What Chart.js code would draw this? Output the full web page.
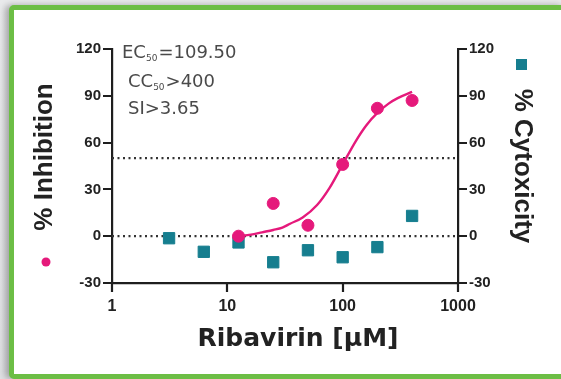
<!DOCTYPE html>
<html>
<head>
<meta charset="utf-8">
<script src="https://cdn.jsdelivr.net/npm/chart.js@4.4.1/dist/chart.umd.min.js"></script>
<style>
  html, body { margin: 0; padding: 0; }
  body { width: 561px; height: 379px; overflow: hidden; position: relative;
         background: linear-gradient(#e9eaec, #dfe0e3); }
  #frame { position: absolute; left: 9px; top: 5px; width: 557px; height: 374px;
           box-sizing: border-box; border: 5px solid #6cbe45; border-radius: 5px;
           background: #fff; box-shadow: -4px 0 6px rgba(0,0,0,0.28); }
  #mycanvas { position: absolute; left: 0; top: 0; }
</style>
</head>
<body>
<div id="frame"></div>
<canvas id="mycanvas" width="561" height="379"></canvas>
<script>
// concentrations (µM) and measured values
var cytoConc = [3.125, 6.25, 12.5, 25, 50, 100, 200, 400];
var cytotoxicity = [-1.3, -10, -4, -16.7, -9, -13.5, -7, 13];
var inhibConc = [12.5, 25, 50, 100, 200, 400];
var inhibition = [0, 21, 7, 46, 82, 87];

// fitted curve
var fitConc = [12.5, 16, 20, 25, 30, 35, 45, 60, 77, 100, 130, 160, 200, 250, 300, 400];
var fitValues = [0, 1, 2.5, 4, 5.5, 8, 12, 20, 31, 46, 61, 71, 79, 85, 88.5, 92.5];

// dotted reference lines (% inhibition)
var refLevels = [50, 0];

var xTicks = [1, 10, 100, 1000];
var yMin = -30, yMax = 120, yStep = 30;

var pink = "#e5197b";
var teal = "#167e8f";
var TICK_LEN = 9;

var refSets = refLevels.map(function(v){
  return {
    type: "line",
    data: [{x: xTicks[0], y: v}, {x: xTicks[xTicks.length - 1], y: v}],
    borderColor: "#333",
    borderWidth: 2.2,
    borderDash: [2, 3.5],
    pointRadius: 0,
    yAxisID: "y",
    order: 10
  };
});

var datasets = [
  {
    type: "scatter",
    label: "% Inhibition",
    data: inhibConc.map(function(c, i){ return {x: c, y: inhibition[i]}; }),
    backgroundColor: pink,
    borderColor: pink,
    pointRadius: 6,
    pointHoverRadius: 6,
    yAxisID: "y",
    order: 1
  },
  {
    type: "line",
    label: "fit",
    data: fitConc.map(function(c, i){ return {x: c, y: fitValues[i]}; }),
    borderColor: pink,
    borderWidth: 2.4,
    cubicInterpolationMode: "monotone",
    pointRadius: 0,
    fill: false,
    yAxisID: "y",
    order: 2
  },
  {
    type: "scatter",
    label: "% Cytoxicity",
    data: cytoConc.map(function(c, i){ return {x: c, y: cytotoxicity[i]}; }),
    backgroundColor: teal,
    borderColor: teal,
    pointStyle: "rect",
    pointRadius: 8,
    pointHoverRadius: 8,
    yAxisID: "y2",
    order: 3
  }
].concat(refSets);

var tickFont = {family: "'Liberation Sans', Arial, sans-serif", size: 15, weight: "bold"};

// grid hidden; tick marks drawn by the plugin below (tickLength still spaces the labels)
function axisGrid(){
  return {display: false, drawOnChartArea: false, drawTicks: true, tickLength: TICK_LEN};
}
function axisBorder(){
  return {display: true, color: "#1e1e1e", width: 2.2};
}

var extras = {
  id: "extras",
  afterDraw: function(chart){
    var ctx = chart.ctx;
    ctx.save();

    // tick marks, outward from each axis
    ctx.strokeStyle = "#1e1e1e";
    ctx.lineWidth = 2.2;
    ctx.lineCap = "butt";
    ctx.beginPath();
    ["x", "y", "y2"].forEach(function(id){
      var s = chart.scales[id];
      s.ticks.forEach(function(t, i){
        var p = Math.round(s.getPixelForTick(i));
        if (id === "x") {
          ctx.moveTo(p, s.top); ctx.lineTo(p, s.top + TICK_LEN);
        } else if (id === "y") {
          ctx.moveTo(s.right, p); ctx.lineTo(s.right - TICK_LEN, p);
        } else {
          ctx.moveTo(s.left, p); ctx.lineTo(s.left + TICK_LEN, p);
        }
      });
    });
    ctx.stroke();

    ctx.fillStyle = "#222";
    ctx.textAlign = "center";
    ctx.textBaseline = "middle";

    // x title
    ctx.font = "bold 25px 'DejaVu Sans'";
    ctx.fillText("Ribavirin [µM]", 298, 339);

    // left y title
    ctx.font = "bold 26px 'Liberation Sans'";
    ctx.save();
    ctx.translate(45, 157);
    ctx.rotate(-Math.PI / 2);
    ctx.fillText("% Inhibition", 0, 0);
    ctx.restore();

    // right y title
    ctx.save();
    ctx.translate(522, 166);
    ctx.rotate(Math.PI / 2);
    ctx.fillText("% Cytoxicity", 0, 0);
    ctx.restore();

    // legend markers
    ctx.fillStyle = pink;
    ctx.beginPath();
    ctx.arc(46, 262, 4.5, 0, Math.PI * 2);
    ctx.fill();
    ctx.fillStyle = teal;
    ctx.fillRect(516, 59, 11, 11);

    // annotation text
    ctx.fillStyle = "#4a4a4a";
    ctx.textAlign = "left";
    ctx.textBaseline = "alphabetic";
    function sub(main, s, rest, x, y){
      ctx.font = "18px 'DejaVu Sans'";
      ctx.fillText(main, x, y);
      x += ctx.measureText(main).width;
      ctx.font = "9px 'DejaVu Sans'";
      ctx.fillText(s, x, y + 3);
      x += ctx.measureText(s).width + 1;
      ctx.font = "18px 'DejaVu Sans'";
      ctx.fillText(rest, x, y);
    }
    sub("EC", "50", "=109.50", 122, 58);
    sub("CC", "50", ">400", 128, 87);
    ctx.font = "18px 'DejaVu Sans'";
    ctx.fillText("SI>3.65", 128, 114);
    ctx.restore();
  }
};

var ctx = document.getElementById("mycanvas");
var chart = new Chart(ctx, {
  data: {datasets: datasets},
  options: {
    responsive: false,
    animation: false,
    layout: {padding: {top: 49, left: 0, right: 0, bottom: 0}},
    plugins: {legend: {display: false}, tooltip: {enabled: false}},
    scales: {
      x: {
        type: "logarithmic",
        min: xTicks[0],
        max: xTicks[xTicks.length - 1],
        afterBuildTicks: function(scale){
          scale.ticks = xTicks.map(function(v){ return {value: v}; });
        },
        afterFit: function(scale){ scale.height = 379 - 283; },
        ticks: {
          font: {family: "'Liberation Sans', Arial, sans-serif", size: 16, weight: "bold"},
          color: "#222",
          padding: 5,
          maxRotation: 0,
          autoSkip: false,
          callback: function(v){ return String(v); }
        },
        grid: axisGrid(),
        border: axisBorder()
      },
      y: {
        position: "left",
        min: yMin,
        max: yMax,
        afterFit: function(scale){ scale.width = 112; },
        ticks: {stepSize: yStep, font: tickFont, color: "#222", padding: 2},
        grid: axisGrid(),
        border: axisBorder()
      },
      y2: {
        position: "right",
        min: yMin,
        max: yMax,
        afterFit: function(scale){ scale.width = 561 - 458; },
        ticks: {stepSize: yStep, font: tickFont, color: "#222", padding: 2},
        grid: axisGrid(),
        border: axisBorder()
      }
    }
  },
  plugins: [extras]
});
</script>
</body>
</html>
